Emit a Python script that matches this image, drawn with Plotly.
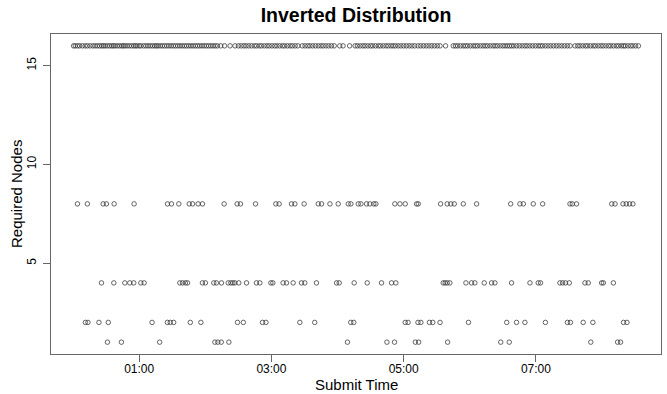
import datetime as dt
import plotly.graph_objects as go

# Submit times (minutes after 00:00), grouped by required nodes
minutes_16 = [0.5, 2, 4, 6, 8.5,
              11, 13, 15.5, 18, 20,
              22, 24, 26, 27.5, 29, 31, 33, 35, 36.5, 38, 40, 42, 44, 45.5, 47, 49, 51, 53, 55, 56.5, 58, 60, 61.5,
              64, 66, 68, 70, 72, 74, 75.5, 77, 79, 81, 83, 85, 87, 89,
              91, 93, 95, 97, 99, 101, 103, 105, 107, 109, 111, 113, 115, 117, 119, 121, 123, 125, 127, 129, 131,
              134, 137.5, 142.5, 147,
              150, 152.5, 155, 157, 159.5, 162, 164.5, 166.5,
              169, 171, 173.5, 176, 178, 180.5, 183, 185, 187.5, 190, 192, 194.5, 197, 199, 201.5, 204,
              208, 210.5, 213, 215, 217.5, 220, 222.5, 225, 227, 229.5, 232, 234.5, 237,
              242, 245,
              251,
              256, 258, 260.5, 263, 265, 267.5, 270, 272, 274.5, 277, 279, 281.5, 284, 286, 288.5, 290.5,
              292.5, 295, 297.5, 300, 302.5, 305, 307.5, 310,
              313, 315.5, 318, 320.5, 323, 325.5, 328, 330.5, 333,
              338,
              345, 347, 349, 351.5, 354, 356, 358, 360.5, 363, 365, 367, 369.5, 372, 374, 376, 378.5, 381, 383,
              385, 387.5, 390, 392, 394, 396, 398,
              400, 402.5, 405, 407.5, 410,
              412, 414.5, 417, 419.5, 422, 424,
              426, 428.5, 431, 433.5, 436, 438.5, 441, 443.5, 446, 448.5, 451,
              455.5, 458, 460, 462.5, 465, 467, 469.5, 472, 474, 476.5, 479, 481, 483.5, 486, 488, 490.5, 493,
              495, 497.5, 499.5,
              501, 503.5, 506,
              508, 510.5, 513]

minutes_8 = [4.0, 13.0, 27.3, 30.3, 37.3, 55.4, 85.7, 89.3, 96.0, 105.4, 108.4, 113.5, 117.4, 137.1,
             148.9, 151.9, 165.6, 184.0, 187.0, 198.2, 201.3, 209.7, 222.5, 225.5, 233.1, 240.6, 249.7,
             252.1, 258.8, 261.2, 266.3, 269.3, 272.9, 274.8, 292.0, 296.6, 301.4, 311.7, 313.2, 333.5,
             339.5, 342.8, 345.9, 354.1, 366.2, 397.1, 405.5, 408.6, 417.6, 426.1, 450.9, 453.0, 456.9,
             488.8, 491.8, 499.0, 502.0, 505.0, 508.0]

minutes_4 = [25.8, 37.0, 47.0, 51.5, 55.1, 61.5, 64.5, 96.9, 99.3, 102.0, 103.9, 117.4, 120.1, 127.7,
             130.1, 134.7, 140.8, 143.2, 145.0, 146.8, 150.4, 157.4, 166.4, 169.5, 179.5, 181.3, 190.6,
             193.7, 199.7, 207.3, 210.3, 220.9, 239.1, 241.5, 255.1, 266.9, 279.9, 289.0, 292.9, 335.9,
             337.7, 339.5, 341.9, 356.5, 361.6, 364.6, 373.1, 379.8, 382.8, 397.9, 414.6, 422.1, 424.2,
             441.8, 444.2, 446.9, 450.3, 464.5, 467.5, 479.6, 481.2, 490.3]

minutes_2 = [11.2, 13.5, 23.5, 32.0, 71.7, 85.6, 88.2, 91.3, 106.4, 116.0, 149.2, 154.5, 171.9, 175.0,
             205.8, 219.3, 252.0, 254.7, 301.4, 304.0, 313.0, 315.6, 323.4, 326.4, 333.0, 358.8, 393.5,
             402.4, 410.0, 428.6, 448.6, 451.3, 462.9, 471.7, 499.5, 502.6]

minutes_1 = [31.2, 43.9, 78.6, 128.7, 131.4, 134.5, 141.4, 249.0, 284.8, 291.7, 310.6, 313.6, 339.9,
             388.1, 395.8, 469.8, 494.1, 496.8]

groups = [(16, minutes_16), (8, minutes_8), (4, minutes_4), (2, minutes_2), (1, minutes_1)]
y_ticks = [5, 10, 15]
x_tick_labels = ["01:00", "03:00", "05:00", "07:00"]

base = dt.datetime(2024, 1, 1)
xs, ys = [], []
for nodes, mins in groups:
    for m in mins:
        xs.append(base + dt.timedelta(minutes=m))
        ys.append(nodes)

all_min = [m for _, ms in groups for m in ms]
lo, hi = min(all_min), max(all_min)
pad = 0.04 * (hi - lo)
x_range = [base + dt.timedelta(minutes=lo - pad), base + dt.timedelta(minutes=hi + pad)]
x_tickvals = [base + dt.timedelta(hours=int(t[:2])) for t in x_tick_labels]

fig = go.Figure(go.Scatter(
    x=xs, y=ys, mode="markers",
    marker=dict(symbol="circle-open", size=4.5, color="#333333", line=dict(width=0.75)),
    hoverinfo="skip", showlegend=False))

font = "Liberation Sans, Arial, Helvetica, sans-serif"
L, R, T, B = 51, 6, 34, 40
fig.update_layout(
    width=667, height=394,
    margin=dict(l=L, r=R, t=T, b=B, autoexpand=False),
    paper_bgcolor="white", plot_bgcolor="white",
    font=dict(family=font, color="black", size=12),
    title=dict(text="<b>Inverted Distribution</b>", x=(L + 667 - R) / 2 / 667, xanchor="center",
               y=1 - 8 / 394, yanchor="top", font=dict(size=19.5, family=font, color="black")),
    xaxis=dict(range=x_range, tickmode="array", tickvals=x_tickvals, ticktext=x_tick_labels,
               showgrid=False, zeroline=False, showline=True, mirror=True, linecolor="#666666",
               linewidth=1, ticks="outside", ticklen=7, tickcolor="#666666", automargin=False,
               ticklabelstandoff=-3, tickfont=dict(size=12)),
    yaxis=dict(range=[0.4, 16.6], tickmode="array", tickvals=y_ticks, ticktext=[str(v) for v in y_ticks],
               showgrid=False, zeroline=False, showline=True, mirror=True, linecolor="#666666",
               linewidth=1, ticks="outside", ticklen=7, tickcolor="#666666", tickangle=-90,
               automargin=False, ticklabelstandoff=2, tickfont=dict(size=12)),
    annotations=[
        dict(text="Submit Time", xref="paper", yref="paper", x=0.5, y=-(384 - 354) / 320.0,
             xanchor="center", yanchor="middle", showarrow=False, font=dict(size=15, family=font)),
        dict(text="Required Nodes", xref="paper", yref="paper", x=-(51 - 16) / 610.0, y=0.5,
             xanchor="center", yanchor="middle", textangle=-90, showarrow=False,
             font=dict(size=15, family=font)),
    ],
)

fig.write_html("out.html", config={"displayModeBar": False},
               post_script="document.body.style.margin='0';document.body.style.overflow='hidden';")
